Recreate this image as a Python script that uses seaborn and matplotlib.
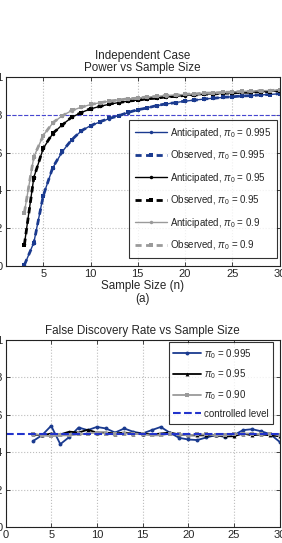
import numpy as np
import pandas as pd
import seaborn as sns
import matplotlib
matplotlib.use("Agg")
import matplotlib.pyplot as plt
from matplotlib.ticker import FuncFormatter

# sample sizes
n = list(range(3, 31))

# power, anticipated / observed, per pi0
ant_995 = [0.005, 0.124, 0.374, 0.519, 0.604, 0.669, 0.713, 0.743, 0.762, 0.780,
           0.797, 0.812, 0.826, 0.838, 0.848, 0.857, 0.865, 0.872, 0.878, 0.883,
           0.888, 0.892, 0.896, 0.899, 0.902, 0.905, 0.908, 0.911]
obs_995 = [0.006, 0.122, 0.372, 0.521, 0.606, 0.667, 0.715, 0.742, 0.764, 0.781,
           0.795, 0.813, 0.827, 0.836, 0.849, 0.858, 0.864, 0.873, 0.877, 0.884,
           0.887, 0.893, 0.895, 0.900, 0.901, 0.906, 0.907, 0.912]
ant_95 = [0.115, 0.469, 0.623, 0.700, 0.747, 0.786, 0.812, 0.831, 0.845, 0.856,
          0.865, 0.872, 0.878, 0.884, 0.889, 0.894, 0.898, 0.902, 0.905, 0.908,
          0.911, 0.913, 0.916, 0.918, 0.920, 0.922, 0.924, 0.926]
obs_95 = [0.113, 0.467, 0.625, 0.702, 0.745, 0.788, 0.811, 0.833, 0.844, 0.857,
          0.864, 0.873, 0.877, 0.885, 0.888, 0.895, 0.897, 0.903, 0.904, 0.909,
          0.910, 0.914, 0.915, 0.919, 0.919, 0.923, 0.923, 0.927]
ant_90 = [0.285, 0.577, 0.692, 0.756, 0.795, 0.822, 0.840, 0.854, 0.864, 0.872,
          0.879, 0.884, 0.889, 0.894, 0.898, 0.902, 0.905, 0.908, 0.911, 0.914,
          0.916, 0.918, 0.921, 0.923, 0.925, 0.927, 0.929, 0.931]
obs_90 = [0.283, 0.579, 0.690, 0.758, 0.794, 0.824, 0.839, 0.855, 0.863, 0.873,
          0.878, 0.885, 0.888, 0.895, 0.897, 0.903, 0.904, 0.909, 0.910, 0.915,
          0.915, 0.919, 0.920, 0.924, 0.924, 0.928, 0.928, 0.932]
target_power = 0.8

# false discovery rate per pi0
fdr_995 = [0.459, 0.491, 0.541, 0.443, 0.482, 0.532, 0.518, 0.535, 0.527, 0.505,
           0.527, 0.509, 0.500, 0.518, 0.535, 0.504, 0.477, 0.468, 0.465, 0.479,
           0.491, 0.482, 0.491, 0.518, 0.523, 0.512, 0.496, 0.456]
fdr_95 = [0.495, 0.490, 0.500, 0.495, 0.510, 0.505, 0.520, 0.505, 0.505, 0.500,
          0.505, 0.500, 0.500, 0.495, 0.500, 0.505, 0.495, 0.490, 0.490, 0.490,
          0.490, 0.485, 0.485, 0.500, 0.490, 0.495, 0.490, 0.485]
fdr_90 = [0.500, 0.490, 0.485, 0.490, 0.490, 0.495, 0.500, 0.505, 0.500, 0.495,
          0.500, 0.500, 0.495, 0.490, 0.490, 0.500, 0.495, 0.490, 0.495, 0.495,
          0.490, 0.490, 0.495, 0.500, 0.500, 0.495, 0.500, 0.490]
fdr_level = 0.5

BLUE = "#1a3a8f"
GREY = "#9a9a9a"

sns.set_style("ticks")
plt.rcParams['font.family'] = ['Liberation Sans', 'DejaVu Sans']
plt.rcParams['mathtext.fontset'] = 'custom'
plt.rcParams['mathtext.rm'] = 'Liberation Sans'
plt.rcParams['mathtext.it'] = 'Liberation Sans:italic'
plt.rcParams['font.size'] = 8

W, H = 282, 543
fig = plt.figure(figsize=(W / 100, H / 100), dpi=100)


def px_axes(left, top, right, bottom):
    return fig.add_axes([left / W, 1 - bottom / H, (right - left) / W, (bottom - top) / H])


def style_axes(ax):
    ax.set_ylim(0, 1)
    ax.set_yticks([0, 0.2, 0.4, 0.6, 0.8, 1])
    ax.yaxis.set_major_formatter(FuncFormatter(lambda v, p: "%g" % v))
    ax.grid(True, linestyle=':', color='#bdbdbd', linewidth=0.8)
    ax.tick_params(direction='in', length=3, width=0.6, labelsize=8, pad=2,
                   top=True, right=True)
    for s in ax.spines.values():
        s.set_linewidth(0.8)
        s.set_color('#222222')


# ---- power plot
ax1 = px_axes(5.5, 77, 279.5, 266)
power = [(ant_995, obs_995, BLUE, "0.995"),
         (ant_95, obs_95, "black", "0.95"),
         (ant_90, obs_90, GREY, "0.9")]
for ant, obs, col, lab in power:
    sns.lineplot(x=n, y=ant, ax=ax1, color=col, linewidth=1.0, marker='o',
                 markersize=2.5, markeredgewidth=0,
                 label=r"Anticipated, $\pi_0$ = " + lab)
    sns.lineplot(x=n, y=obs, ax=ax1, color=col, linewidth=2.0,
                 marker='s', markersize=3.5, markeredgewidth=0,
                 label=r"Observed, $\pi_0$ = " + lab)
    ax1.lines[-1].set_linestyle((0, (2.2, 1.6)))
ax1.axhline(target_power, color='#4646d2', linestyle='--', linewidth=0.8, zorder=1)
ax1.set_xlim(1, 30)
ax1.set_xticks([5, 10, 15, 20, 25, 30])
style_axes(ax1)
ax1.set_title("Independent Case\nPower vs Sample Size", fontsize=8.4, pad=4, linespacing=1.05)
ax1.set_xlabel("Sample Size (n)\n(a)", fontsize=8.4, labelpad=1, linespacing=1.05)
ax1.set_ylabel("")
leg = ax1.legend(loc='lower right', bbox_to_anchor=((277 - 5.5) / 274, (266 - 258) / 189),
                 borderaxespad=0, frameon=True, fancybox=False, edgecolor='black',
                 fontsize=7.0, handlelength=3.3, borderpad=0.6, labelspacing=0.9,
                 handletextpad=0.3)
leg.get_frame().set_linewidth(0.8)

# ---- FDR plot
ax2 = px_axes(5.5, 340, 279.5, 527)
fdr = [(fdr_995, BLUE, 'o', r"$\pi_0$ = 0.995"),
       (fdr_95, "black", '^', r"$\pi_0$ = 0.95"),
       (fdr_90, GREY, 's', r"$\pi_0$ = 0.90")]
for vals, col, mk, lab in fdr:
    sns.lineplot(x=n, y=vals, ax=ax2, color=col, linewidth=1.3, marker=mk,
                 markersize=2.8, markeredgewidth=0, label=lab)
ax2.axhline(fdr_level, color='#2233cc', linestyle='--', linewidth=1.5,
            label="controlled level")
ax2.set_xlim(0, 30)
ax2.set_xticks([0, 5, 10, 15, 20, 25, 30])
style_axes(ax2)
ax2.set_title("False Discovery Rate vs Sample Size", fontsize=8.4, pad=4)
ax2.set_xlabel("")
ax2.set_ylabel("")
leg2 = ax2.legend(loc='upper right', bbox_to_anchor=((273 - 5.5) / 274, (527 - 342) / 187),
                  borderaxespad=0, frameon=True, fancybox=False, edgecolor='black',
                  fontsize=7.0, handlelength=2.8, borderpad=0.5, labelspacing=0.7,
                  handletextpad=0.3)
leg2.get_frame().set_linewidth(0.8)

fig.savefig("out.png", dpi=100)
